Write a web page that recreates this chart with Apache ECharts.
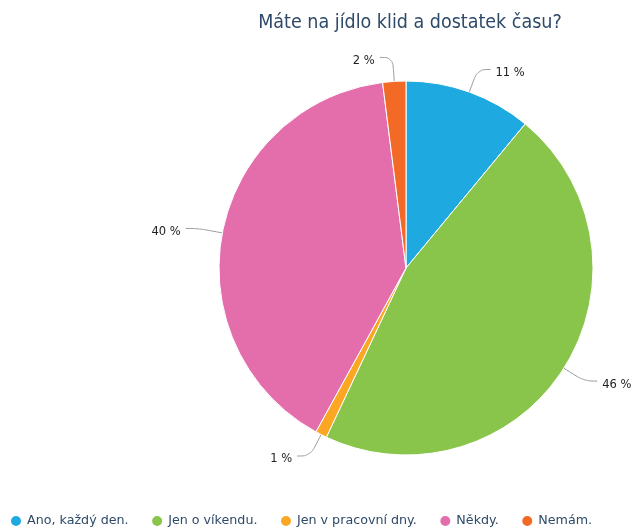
<!DOCTYPE html>
<html><head><meta charset="utf-8">
<script src="https://cdn.jsdelivr.net/npm/echarts@6/dist/echarts.min.js"></script>
<style>html,body{margin:0;padding:0;background:#fff}#c{width:633px;height:532px}</style>
</head><body><div id="c"></div>
<script>
var categories = ["Ano, každý den.", "Jen o víkendu.", "Jen v pracovní dny.", "Někdy.", "Nemám."];
var values = [11, 46, 1, 40, 2];
var colors = ["#1ea9e1", "#89c54a", "#fba724", "#e46eac", "#f26a25"];
var titleText = "Máte na jídlo klid a dostatek času?";
var font = "DejaVu Sans Condensed, DejaVu Sans";
var font2 = "DejaVu Sans";

var chart = echarts.init(document.getElementById('c'));
chart.setOption({
  animation: false,
  color: colors,
  title: {
    text: titleText, left: 405, top: 8, textAlign: 'center',
    textStyle: {fontFamily: font, fontSize: 19.5, fontWeight: 'normal', color: '#2e4a68'}
  },
  legend: {
    bottom: -1, left: 4, icon: 'circle', itemWidth: 12, itemHeight: 12, itemGap: 21.5,
    textStyle: {fontFamily: font2, fontSize: 12.7, color: '#2e4a68'},
    data: categories
  },
  series: [{
    type: 'pie', center: [406, 268], radius: 187, startAngle: 90, clockwise: true,
    itemStyle: {borderColor: '#fff', borderWidth: 1},
    label: {
      formatter: '{p|{c} %}', overflow: 'none',
      rich: {p: {fontFamily: font2, fontSize: 11.5, color: '#222', padding: [7, 0, 0, 0]}}
    },
    labelLine: {length: 24, length2: 13, smooth: 0.4, lineStyle: {color: '#999', width: 1}},
    data: categories.map(function(n, i){ return {name: n, value: values[i]}; })
  }]
});
</script></body></html>
